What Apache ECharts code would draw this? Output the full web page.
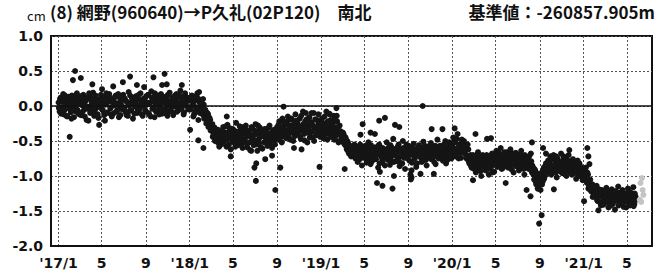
<!DOCTYPE html>
<html><head><meta charset="utf-8">
<script src="https://cdn.jsdelivr.net/npm/echarts@6/dist/echarts.min.js"></script>
<style>html,body{margin:0;padding:0;background:#fff}#c{width:669px;height:274px}</style>
</head><body><div id="c"></div>
<script>
// ---- texts ----
const unitText = 'cm';
const titleText = '(8) 網野(960640)→P久礼(02P120)　南北';
const baseText = '基準値：-260857.905m';

// ---- axes ----
const yMin = -2.0, yMax = 1.0, yStep = 0.5;
const xMin = [2016, 11, 11];   // y, month(0-based), day
const xMax = [2021, 6, 10];
const xTickMonths = [[2017,0],[2017,4],[2017,8],[2018,0],[2018,4],[2018,8],[2019,0],[2019,4],[2019,8],[2020,0],[2020,4],[2020,8],[2021,0],[2021,4]];

// ---- NS values (cm); set A: every 3 days from Jan 1, set B: every 3 days from Jan 2 ----
const stepDays = 3;
const ns2017 = [
 0.05,-0.08,0.12,-0.02,0.08,-0.12,0.15,0.02,-0.15,0.06,
 -0.04,0.10,-0.18,0.03,0.14,-0.07,0.00,0.18,-0.10,0.04,
 0.09,-0.13,0.01,0.16,-0.05,0.07,-0.20,0.11,-0.01,0.13,
 -0.09,0.04,0.19,-0.14,0.06,-0.03,0.10,-0.17,0.08,0.00,
 0.12,-0.06,0.03,-0.21,0.14,0.05,-0.10,0.17,-0.02,0.07,
 -0.12,0.09,0.01,0.15,-0.08,0.04,-0.16,0.11,0.02,-0.05,
 0.16,-0.03,0.08,-0.13,0.05,0.20,-0.07,0.02,0.12,-0.18,
 0.06,-0.01,0.14,-0.10,0.09,-0.05,0.18,0.03,-0.14,0.07,
 0.11,-0.08,0.02,0.16,-0.12,0.05,0.21,-0.04,0.09,-0.16,
 0.04,0.13,-0.07,0.08,-0.02,0.17,-0.11,0.06,0.12,-0.05,
 0.10,-0.14,0.03,0.19,-0.06,0.08,0.01,-0.10,0.15,0.05,
 -0.08,0.12,0.04,0.22,-0.03,0.09,-0.12,0.14,0.02,0.07,
 0.11,-0.04
];
const ns2017b = [
 -0.03,0.10,-0.11,0.06,0.17,-0.06,0.01,-0.14,0.09,0.13,
 0.02,-0.09,0.15,-0.01,-0.16,0.08,0.12,-0.05,0.04,-0.12,
 0.14,0.03,-0.08,0.10,-0.15,0.00,0.12,-0.04,0.18,-0.10,
 0.07,-0.02,0.11,-0.07,0.15,0.04,-0.12,0.06,-0.01,0.16,
 -0.05,0.09,-0.13,0.02,0.18,-0.09,0.07,0.12,-0.03,-0.15,
 0.05,-0.10,0.13,0.03,-0.06,0.17,0.00,-0.13,0.08,0.14,
 -0.02,0.11,-0.09,0.06,-0.14,0.01,0.15,-0.06,0.09,0.04,
 -0.11,0.13,0.02,-0.07,0.16,-0.03,0.08,-0.12,0.10,0.00,
 -0.06,0.14,0.05,-0.10,0.03,-0.15,0.12,0.07,-0.02,0.18,
 -0.08,0.02,0.15,-0.12,0.09,0.04,-0.05,0.13,-0.10,0.08,
 0.01,0.16,-0.08,0.06,-0.03,0.12,-0.13,0.10,-0.01,0.17,
 0.03,-0.06,0.15,-0.02,0.10,0.05,-0.09,0.18,0.00,0.12,
 -0.05,0.08
];
const ns2018 = [
 0.08,-0.05,0.15,0.02,-0.12,0.10,-0.02,0.18,-0.20,0.05,
 -0.02,0.08,-0.12,0.02,-0.15,-0.08,-0.22,-0.12,-0.28,-0.20,
 -0.34,-0.26,-0.40,-0.31,-0.48,-0.36,-0.52,-0.42,-0.38,-0.55,
 -0.44,-0.30,-0.50,-0.38,-0.58,-0.27,-0.46,-0.35,-0.62,-0.41,
 -0.33,-0.52,-0.40,-0.24,-0.47,-0.56,-0.36,-0.44,-0.30,-0.60,
 -0.39,-0.49,-0.28,-0.54,-0.42,-0.35,-0.63,-0.45,-0.32,-0.50,
 -0.41,-0.26,-0.55,-0.37,-0.48,-0.31,-0.59,-0.43,-0.36,-0.52,
 -0.45,-0.33,-0.57,-0.40,-0.28,-0.50,-0.38,-0.46,-0.34,-0.55,
 -0.42,-0.30,-0.48,-0.22,-0.36,-0.44,-0.18,-0.32,-0.40,-0.26,
 -0.35,-0.15,-0.45,-0.28,-0.38,-0.20,-0.50,-0.30,-0.12,-0.41,
 -0.25,-0.36,-0.18,-0.47,-0.30,-0.08,-0.40,-0.22,-0.34,-0.52,
 -0.28,-0.16,-0.38,-0.24,-0.45,-0.10,-0.32,-0.42,-0.20,-0.35,
 -0.27,-0.44
];
const ns2018b = [
 -0.04,0.12,0.00,-0.15,0.07,-0.08,0.14,-0.03,0.10,-0.10,
 0.04,-0.06,0.10,-0.18,-0.05,-0.25,-0.10,-0.30,-0.17,-0.35,
 -0.29,-0.44,-0.33,-0.50,-0.38,-0.45,-0.34,-0.58,-0.47,-0.40,
 -0.36,-0.53,-0.42,-0.29,-0.48,-0.40,-0.55,-0.32,-0.45,-0.50,
 -0.47,-0.35,-0.58,-0.43,-0.38,-0.51,-0.29,-0.46,-0.54,-0.37,
 -0.48,-0.33,-0.44,-0.59,-0.36,-0.52,-0.41,-0.30,-0.47,-0.56,
 -0.35,-0.49,-0.40,-0.28,-0.53,-0.44,-0.38,-0.61,-0.42,-0.33,
 -0.51,-0.39,-0.46,-0.31,-0.55,-0.43,-0.60,-0.36,-0.48,-0.40,
 -0.34,-0.47,-0.27,-0.41,-0.30,-0.52,-0.35,-0.24,-0.38,-0.46,
 -0.22,-0.40,-0.31,-0.48,-0.18,-0.36,-0.27,-0.43,-0.33,-0.21,
 -0.39,-0.29,-0.44,-0.14,-0.35,-0.26,-0.49,-0.31,-0.19,-0.38,
 -0.33,-0.45,-0.23,-0.36,-0.28,-0.50,-0.19,-0.40,-0.30,-0.25,
 -0.37,-0.22
];
const ns2019 = [
 -0.30,-0.18,-0.42,-0.25,-0.36,-0.08,-0.48,-0.28,-0.34,-0.20,
 -0.40,-0.26,-0.14,-0.45,-0.32,-0.22,-0.38,-0.50,-0.36,-0.44,
 -0.48,-0.40,-0.55,-0.46,-0.62,-0.52,-0.68,-0.58,-0.72,-0.60,
 -0.66,-0.55,-0.75,-0.62,-0.80,-0.58,-0.70,-0.64,-0.85,-0.60,
 -0.72,-0.57,-0.68,-0.78,-0.52,-0.65,-0.83,-0.61,-0.74,-0.67,
 -0.59,-0.76,-0.64,-0.88,-0.55,-0.70,-0.62,-0.80,-0.68,-0.73,
 -0.63,-0.52,-0.77,-0.66,-0.84,-0.58,-0.71,-0.47,-0.69,-0.79,
 -0.61,-0.74,-0.55,-0.86,-0.64,-0.72,-0.50,-0.68,-0.90,-0.60,
 -0.70,-0.57,-0.78,-0.63,-0.92,-0.66,-0.54,-0.75,-0.62,-0.82,
 -0.68,-0.56,-0.73,-0.60,-0.79,-0.51,-0.70,-0.64,-0.85,-0.58,
 -0.66,-0.74,-0.53,-0.69,-0.62,-0.80,-0.57,-0.71,-0.48,-0.65,
 -0.72,-0.59,-0.67,-0.78,-0.55,-0.63,-0.82,-0.60,-0.70,-0.52,
 -0.64,-0.75
];
const ns2019b = [
 -0.35,-0.24,-0.46,-0.15,-0.31,-0.40,-0.22,-0.37,-0.12,-0.44,
 -0.29,-0.36,-0.48,-0.20,-0.41,-0.30,-0.52,-0.28,-0.42,-0.50,
 -0.38,-0.53,-0.44,-0.58,-0.50,-0.65,-0.56,-0.62,-0.70,-0.66,
 -0.60,-0.72,-0.58,-0.68,-0.63,-0.77,-0.55,-0.71,-0.66,-0.74,
 -0.62,-0.70,-0.81,-0.59,-0.67,-0.73,-0.56,-0.79,-0.64,-0.70,
 -0.75,-0.62,-0.69,-0.57,-0.82,-0.66,-0.74,-0.60,-0.71,-0.85,
 -0.69,-0.75,-0.60,-0.72,-0.56,-0.78,-0.65,-0.80,-0.62,-0.70,
 -0.66,-0.58,-0.79,-0.63,-0.71,-0.82,-0.60,-0.74,-0.67,-0.55,
 -0.75,-0.64,-0.70,-0.58,-0.81,-0.61,-0.72,-0.68,-0.87,-0.63,
 -0.59,-0.71,-0.65,-0.80,-0.62,-0.74,-0.57,-0.77,-0.66,-0.70,
 -0.61,-0.69,-0.76,-0.58,-0.73,-0.64,-0.83,-0.60,-0.68,-0.75,
 -0.57,-0.66,-0.74,-0.62,-0.71,-0.50,-0.67,-0.77,-0.58,-0.69,
 -0.61,-0.56
];
const ns2020 = [
 -0.58,-0.45,-0.70,-0.52,-0.63,-0.40,-0.75,-0.55,-0.66,-0.48,
 -0.60,-0.50,-0.68,-0.57,-0.72,-0.62,-0.82,-0.70,-0.88,-0.76,
 -0.84,-0.72,-0.95,-0.78,-0.66,-0.90,-0.80,-1.00,-0.74,-0.86,
 -0.79,-0.92,-0.70,-0.85,-0.98,-0.75,-0.88,-0.68,-0.82,-0.94,
 -0.76,-0.64,-0.87,-0.72,-0.80,-0.60,-0.90,-0.74,-0.83,-0.69,
 -0.78,-0.66,-0.88,-0.73,-0.62,-0.84,-0.71,-0.95,-0.77,-0.67,
 -0.81,-0.70,-0.92,-0.75,-0.64,-0.86,-0.79,-0.98,-0.72,-0.85,
 -0.76,-0.90,-0.82,-0.68,-0.95,-0.88,-1.05,-0.92,-1.12,-1.00,
 -1.15,-1.02,-1.20,-0.95,-1.08,-0.88,-1.00,-0.82,-0.94,-0.78,
 -0.90,-0.72,-0.98,-0.85,-0.70,-0.93,-0.80,-1.02,-0.76,-0.88,
 -0.82,-0.68,-0.96,-0.78,-0.90,-0.74,-1.00,-0.86,-0.70,-0.94,
 -0.84,-0.98,-0.76,-0.92,-0.80,-1.04,-0.88,-0.95,-0.82,-1.00,
 -0.90,-1.06
];
const ns2020b = [
 -0.64,-0.52,-0.61,-0.72,-0.47,-0.68,-0.57,-0.62,-0.74,-0.53,
 -0.66,-0.58,-0.63,-0.75,-0.55,-0.79,-0.74,-0.85,-0.78,-0.70,
 -0.90,-0.77,-0.83,-0.70,-0.87,-0.75,-0.93,-0.82,-0.70,-0.80,
 -0.86,-0.74,-0.80,-0.90,-0.72,-0.83,-0.78,-0.95,-0.73,-0.84,
 -0.70,-0.81,-0.76,-0.67,-0.85,-0.78,-0.71,-0.88,-0.66,-0.79,
 -0.72,-0.83,-0.69,-0.80,-0.76,-0.91,-0.68,-0.82,-0.74,-0.86,
 -0.73,-0.88,-0.78,-0.69,-0.83,-0.74,-0.90,-0.70,-0.80,-0.77,
 -0.84,-0.72,-0.88,-0.79,-0.85,-0.98,-0.90,-1.08,-0.96,-1.18,
 -1.05,-1.10,-0.98,-1.12,-0.92,-1.04,-0.86,-0.97,-0.84,-0.92,
 -0.80,-0.94,-0.86,-0.76,-0.91,-0.84,-0.95,-0.74,-0.89,-0.82,
 -0.93,-0.80,-0.87,-0.72,-0.97,-0.83,-0.91,-0.78,-0.88,-0.81,
 -0.92,-0.86,-0.79,-0.96,-0.85,-0.90,-0.78,-1.00,-0.92,-0.87,
 -0.98,-0.94
];
const ns2021 = [
 -0.92,-1.02,-0.88,-1.10,-0.98,-1.15,-1.05,-1.22,-1.12,-1.25,
 -1.18,-1.30,-1.14,-1.36,-1.22,-1.28,-1.42,-1.20,-1.33,-1.25,
 -1.38,-1.17,-1.30,-1.45,-1.24,-1.35,-1.19,-1.40,-1.28,-1.48,
 -1.22,-1.34,-1.15,-1.40,-1.27,-1.36,-1.20,-1.44,-1.30,-1.25,
 -1.37,-1.18,-1.32,-1.42,-1.24,-1.35,-1.16,-1.40,-1.29
];
const ns2021b = [
 -0.97,-0.90,-1.06,-0.95,-1.18,-1.08,-1.20,-1.15,-1.30,-1.20,
 -1.26,-1.22,-1.34,-1.27,-1.19,-1.38,-1.26,-1.30,-1.41,-1.23,
 -1.30,-1.26,-1.37,-1.21,-1.33,-1.42,-1.27,-1.31,-1.36,-1.22,
 -1.31,-1.27,-1.42,-1.24,-1.33,-1.29,-1.38,-1.26,-1.35,-1.45,
 -1.28,-1.33,-1.22,-1.38,-1.31,-1.27,-1.43,-1.25,-1.34
];
// scattered single points [date, cm]
const outliers = [
 ['2017-02-01',-0.44],['2017-02-10',0.37],['2017-02-16',0.50],['2017-03-04',0.40],['2017-03-25',-0.21],
 ['2017-04-05',0.31],['2017-04-24',-0.27],['2017-05-02',0.24],['2017-06-02',0.28],['2017-06-29',0.34],
 ['2017-07-19',0.42],['2017-08-07',0.30],['2017-08-27',0.27],['2017-09-22',0.41],['2017-10-16',0.30],
 ['2017-10-23',0.46],['2017-10-29',0.31],['2017-12-10',0.30],['2018-01-02',-0.34],['2018-01-25',-0.49],
 ['2018-01-27',0.20],['2018-02-08',-0.60],['2018-04-14',-0.15],['2018-04-25',-0.72],['2018-06-21',-0.64],
 ['2018-06-30',-0.88],['2018-07-04',-1.07],['2018-07-05',-0.82],['2018-07-08',-0.64],['2018-07-30',-0.76],
 ['2018-08-18',-0.71],['2018-08-27',-1.20],['2018-09-10',-0.88],['2018-09-19',-0.01],['2018-10-18',-0.60],
 ['2018-11-08',-0.62],['2018-11-20',-0.10],['2018-12-06',-0.10],['2018-12-25',-0.12],['2018-12-28',-0.87],
 ['2019-01-24',-0.11],['2019-02-13',-0.03],['2019-02-14',-0.14],['2019-03-08',-0.90],['2019-04-21',-0.41],
 ['2019-04-27',-0.26],['2019-05-19',-0.38],['2019-05-31',-0.40],['2019-06-06',-1.10],['2019-06-12',-0.21],
 ['2019-06-14',-0.94],['2019-06-21',-1.14],['2019-06-28',-0.17],['2019-07-19',-1.18],['2019-07-23',-1.00],
 ['2019-07-26',-0.27],['2019-08-07',-0.30],['2019-09-07',-0.98],['2019-09-08',-1.05],['2019-09-10',-1.02],
 ['2019-10-05',-0.97],['2019-10-11',0.00],['2019-11-05',-0.33],['2019-11-11',-0.97],['2019-12-05',-0.33],
 ['2020-01-08',-0.32],['2020-02-28',-1.06],['2020-03-06',-0.40],['2020-04-07',-0.47],['2020-04-18',-0.46],
 ['2020-05-29',-1.10],['2020-07-26',-1.20],['2020-08-06',-1.29],['2020-08-10',-0.52],['2020-08-30',-1.68],
 ['2020-09-06',-1.56],['2020-09-10',-0.60],['2020-09-18',-0.68],['2020-10-10',-1.19],['2020-10-16',-0.72],
 ['2020-11-22',-0.63],['2021-01-02',-1.36],['2021-01-11',-0.60],['2021-01-14',-0.72],['2021-01-17',-0.83],
 ['2021-02-11',-1.49]
];
// preliminary (gray) solutions
const prelim = [['2021-06-06',-1.34],['2021-06-08',-1.10],['2021-06-10',-1.37],['2021-06-12',-1.03],['2021-06-14',-1.20],['2021-06-16',-1.27]];

// ---- build ----
function d(y, m, dd) { return Date.UTC(y, m, dd); }
function parseD(s) { const p = s.split('-').map(Number); return d(p[0], p[1]-1, p[2]); }
const sets = [
  [2017, 1, ns2017],[2017, 2, ns2017b],[2018, 1, ns2018],[2018, 2, ns2018b],[2019, 1, ns2019],[2019, 2, ns2019b],
  [2020, 1, ns2020],[2020, 2, ns2020b],[2021, 1, ns2021],[2021, 2, ns2021b]
];
const mainData = [];
sets.forEach(([yr, day0, arr]) => arr.forEach((v, i) => mainData.push([d(yr, 0, day0 + i*stepDays), v])));
outliers.forEach(([s, v]) => mainData.push([parseD(s), v]));
const prelimData = prelim.map(([s, v]) => [parseD(s), v]);
const xTicks = xTickMonths.map(([y, m]) => d(y, m, 1));

const TFONT = "'Noto Sans CJK JP', sans-serif";
const AFONT = "'DejaVu Sans', sans-serif";
const INK = '#111';
const GRIDC = '#555';
const chart = echarts.init(document.getElementById('c'), null, {renderer: 'svg'});
chart.setOption({
  animation: false,
  backgroundColor: '#fff',
  grid: {left: 51, right: 17, top: 36, bottom: 28, show: true, borderColor: INK, borderWidth: 2, backgroundColor: 'transparent'},
  graphic: [
    {type: 'text', left: 27, top: 9, style: {text: unitText, font: "13px " + TFONT, fill: INK}},
    {type: 'text', left: 50, top: 3, style: {text: titleText, font: "bold 17px " + TFONT, fill: INK}},
    {type: 'text', right: 14, top: 3, style: {text: baseText, font: "bold 17px " + TFONT, fill: INK}}
  ],
  xAxis: {
    type: 'value', min: d(...xMin), max: d(...xMax),
    axisLine: {show: true, onZero: false, lineStyle: {color: INK, width: 2}},
    axisTick: {show: false, customValues: xTicks},
    axisLabel: {
      customValues: xTicks, color: INK, fontFamily: AFONT, fontWeight: 'bold', fontSize: 14, margin: 10,
      formatter: function (v) { const t = new Date(v); const m = t.getUTCMonth() + 1; return m === 1 ? "'" + String(t.getUTCFullYear()).slice(2) + '/1' : String(m); }
    },
    splitLine: {show: true, lineStyle: {color: GRIDC, width: 1, type: [2, 2]}}
  },
  yAxis: {
    type: 'value', min: yMin, max: yMax, interval: yStep,
    axisLine: {show: true, lineStyle: {color: INK, width: 2}},
    axisTick: {show: false},
    axisLabel: {color: INK, fontFamily: AFONT, fontWeight: 'bold', fontSize: 14, margin: 8, formatter: v => v.toFixed(1)},
    splitLine: {show: true, lineStyle: {color: GRIDC, width: 1, type: [2, 2]}}
  },
  series: [
    {type: 'scatter', data: mainData, symbolSize: 6, itemStyle: {color: '#151515', opacity: 1}, silent: true,
     markLine: {silent: true, symbol: ['none', 'none'], label: {show: false}, lineStyle: {type: 'solid', color: INK, width: 1.5}, data: [{yAxis: 0}]}},
    {type: 'scatter', data: prelimData, symbolSize: 6, itemStyle: {color: '#c4c4c4', opacity: 1}, silent: true}
  ]
});
</script></body></html>
